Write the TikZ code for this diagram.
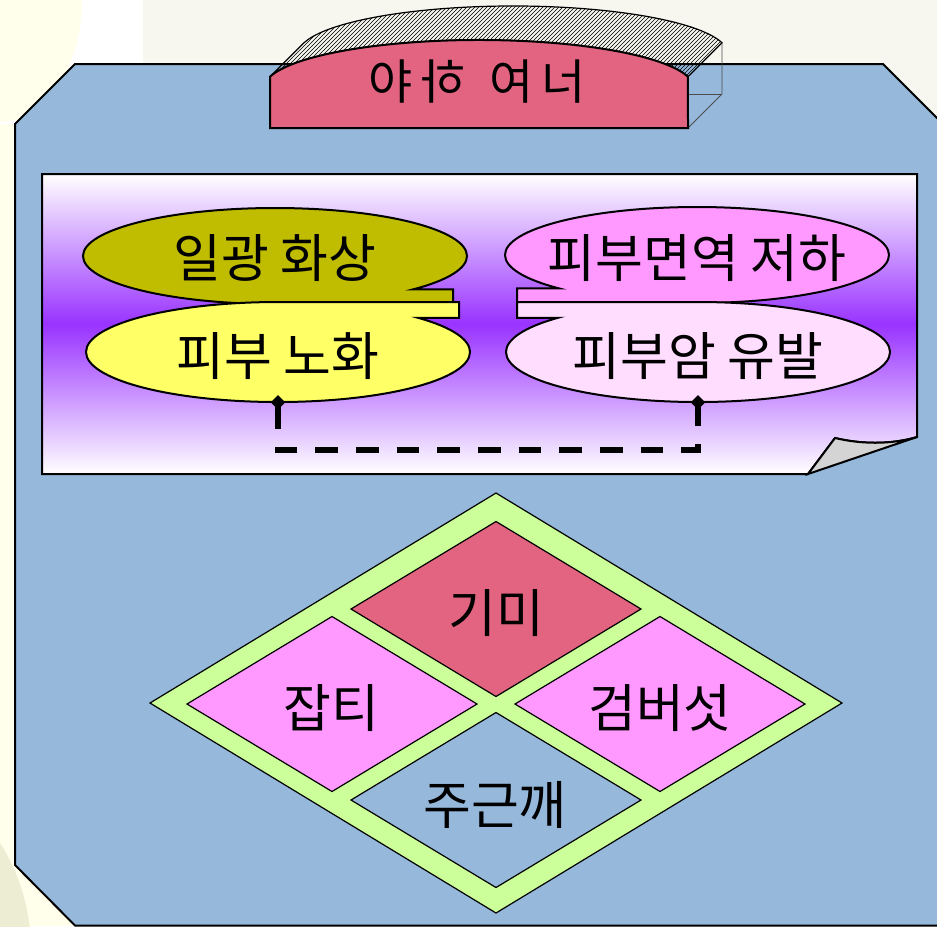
\documentclass[tikz,border=0pt]{standalone}
\usepackage{fontspec}
\newfontfamily\krfont{Noto Sans CJK KR}
\usetikzlibrary{arrows.meta,patterns}
\definecolor{bgblue}{RGB}{149,184,219}
\definecolor{beige}{RGB}{247,247,240}
\definecolor{paleyel}{RGB}{255,255,236}
\definecolor{palegreen}{RGB}{237,237,211}
\definecolor{rose}{RGB}{227,100,128}
\definecolor{olive}{RGB}{192,188,0}
\definecolor{lemon}{RGB}{255,255,102}
\definecolor{pinkf}{RGB}{255,153,255}
\definecolor{lightpink}{RGB}{255,221,255}
\definecolor{purp}{RGB}{153,51,255}
\definecolor{lime}{RGB}{204,255,153}
\definecolor{foldgray}{RGB}{212,212,212}
\tikzset{
  outl/.style={draw=black, line width=1.5pt},
  thinout/.style={draw=black, line width=0.9pt},
  lbl/.style={font=\krfont\fontsize{39}{44}\selectfont, inner sep=0pt, text=black},
  ttl/.style={font=\krfont\fontsize{36}{40}\selectfont, inner sep=0pt, text=black},
  dashconn/.style={line width=3.9pt, dash pattern=on 17pt off 13.5pt},
  tipd/.tip={Diamond[length=11pt,width=11pt]}
}
\begin{document}
\begin{tikzpicture}[x=0.75pt,y=-0.75pt]
\useasboundingbox (0,0) rectangle (937,926);
% background
\fill[white] (0,0) rectangle (937,926);
\fill[beige] (143,0) rectangle (937,926);
\fill[paleyel] (0,0) ellipse[x radius=82, y radius=122];
\fill[paleyel] (0,124) rectangle (80,926);
\fill[palegreen] (-170,950) circle[radius=201];
% main blue plate
\path[fill=bgblue, outl] (75,64) -- (883,64) -- (1000,181) -- (1000,925.5) -- (75,925.5) -- (15,865) -- (15,124) -- cycle;
% title 3D plate
\path[pattern=north east lines, pattern color=black, thinout]
  (270,76.7) arc[start angle=193.6, end angle=346.4, x radius=215, y radius=48]
  -- (722,42.7) arc[start angle=346.4, end angle=193.6, x radius=215, y radius=48] -- cycle;
\draw[black!70, line width=0.6pt] (688,128) -- (722,94) -- (722,42.7);
\draw[black!70, line width=0.6pt] (688,94) -- (722,94);
\path[fill=rose, outl] (270,128) -- (270,76.7) arc[start angle=193.6, end angle=346.4, x radius=215, y radius=48] -- (688,128) -- cycle;
\node[ttl] (title) at (477,82) {야\,\reflectbox{하}\hspace{0.5em}여\,너};
% panel with curled corner
\path[top color=white, bottom color=white, middle color=purp, outl]
  (42,174) -- (917,174) -- (917,437) .. controls (890,445) and (860,444) .. (835,438) -- (808,474) -- (42,474) -- cycle;
\path[fill=foldgray, outl] (808,474) -- (835,438) .. controls (860,444) and (890,445) .. (917,437) -- cycle;
% left pair
\path[fill=olive, outl] (275,304) arc[start angle=90, end angle=404, x radius=192, y radius=48] -- (453,289.3) -- (453,304) -- cycle;
\path[fill=lemon, outl] (278,302) arc[start angle=270, end angle=-43, x radius=192, y radius=50] -- (459,317.9) -- (459,302) -- cycle;
% right pair
\path[fill=pinkf, outl] (697,303) arc[start angle=90, end angle=-224, x radius=192, y radius=48] -- (517,288.3) -- (517,303) -- cycle;
\path[fill=lightpink, outl] (698,302) arc[start angle=-90, end angle=223.2, x radius=192, y radius=50] -- (517,317.8) -- (517,302) -- cycle;
\node[lbl] (sunburn) at (275,258) {일광 화상};
\node[lbl] (aging) at (278,356) {피부 노화};
\node[lbl] (immune) at (697,258) {피부면역 저하};
\node[lbl] (cancer) at (698,356) {피부암 유발};
\coordinate (ya) at (278,395);
\coordinate (pb) at (698,395);
\draw[dashconn, tipd-tipd] (ya) -- ++(0,55) -| (pb);
% diamond grid
\path[fill=lime, thinout] (496,493) -- (842,703) -- (496,913) -- (150,703) -- cycle;
\path[fill=rose, thinout] (496,521.5) -- (641,609) -- (496,696.5) -- (351,609) -- cycle;
\path[fill=pinkf, thinout] (332,616.5) -- (477,704) -- (332,791.5) -- (187,704) -- cycle;
\path[fill=pinkf, thinout] (660,616.5) -- (805,704) -- (660,791.5) -- (515,704) -- cycle;
\path[fill=bgblue, thinout] (496,712.5) -- (641,800) -- (496,887.5) -- (351,800) -- cycle;
\node[lbl] (gimi) at (496,613) {기미};
\node[lbl] (japti) at (331,708) {잡티};
\node[lbl] (geom) at (660,708) {검버섯};
\node[lbl] (jugun) at (495,805) {주근깨};
\end{tikzpicture}
\end{document}
